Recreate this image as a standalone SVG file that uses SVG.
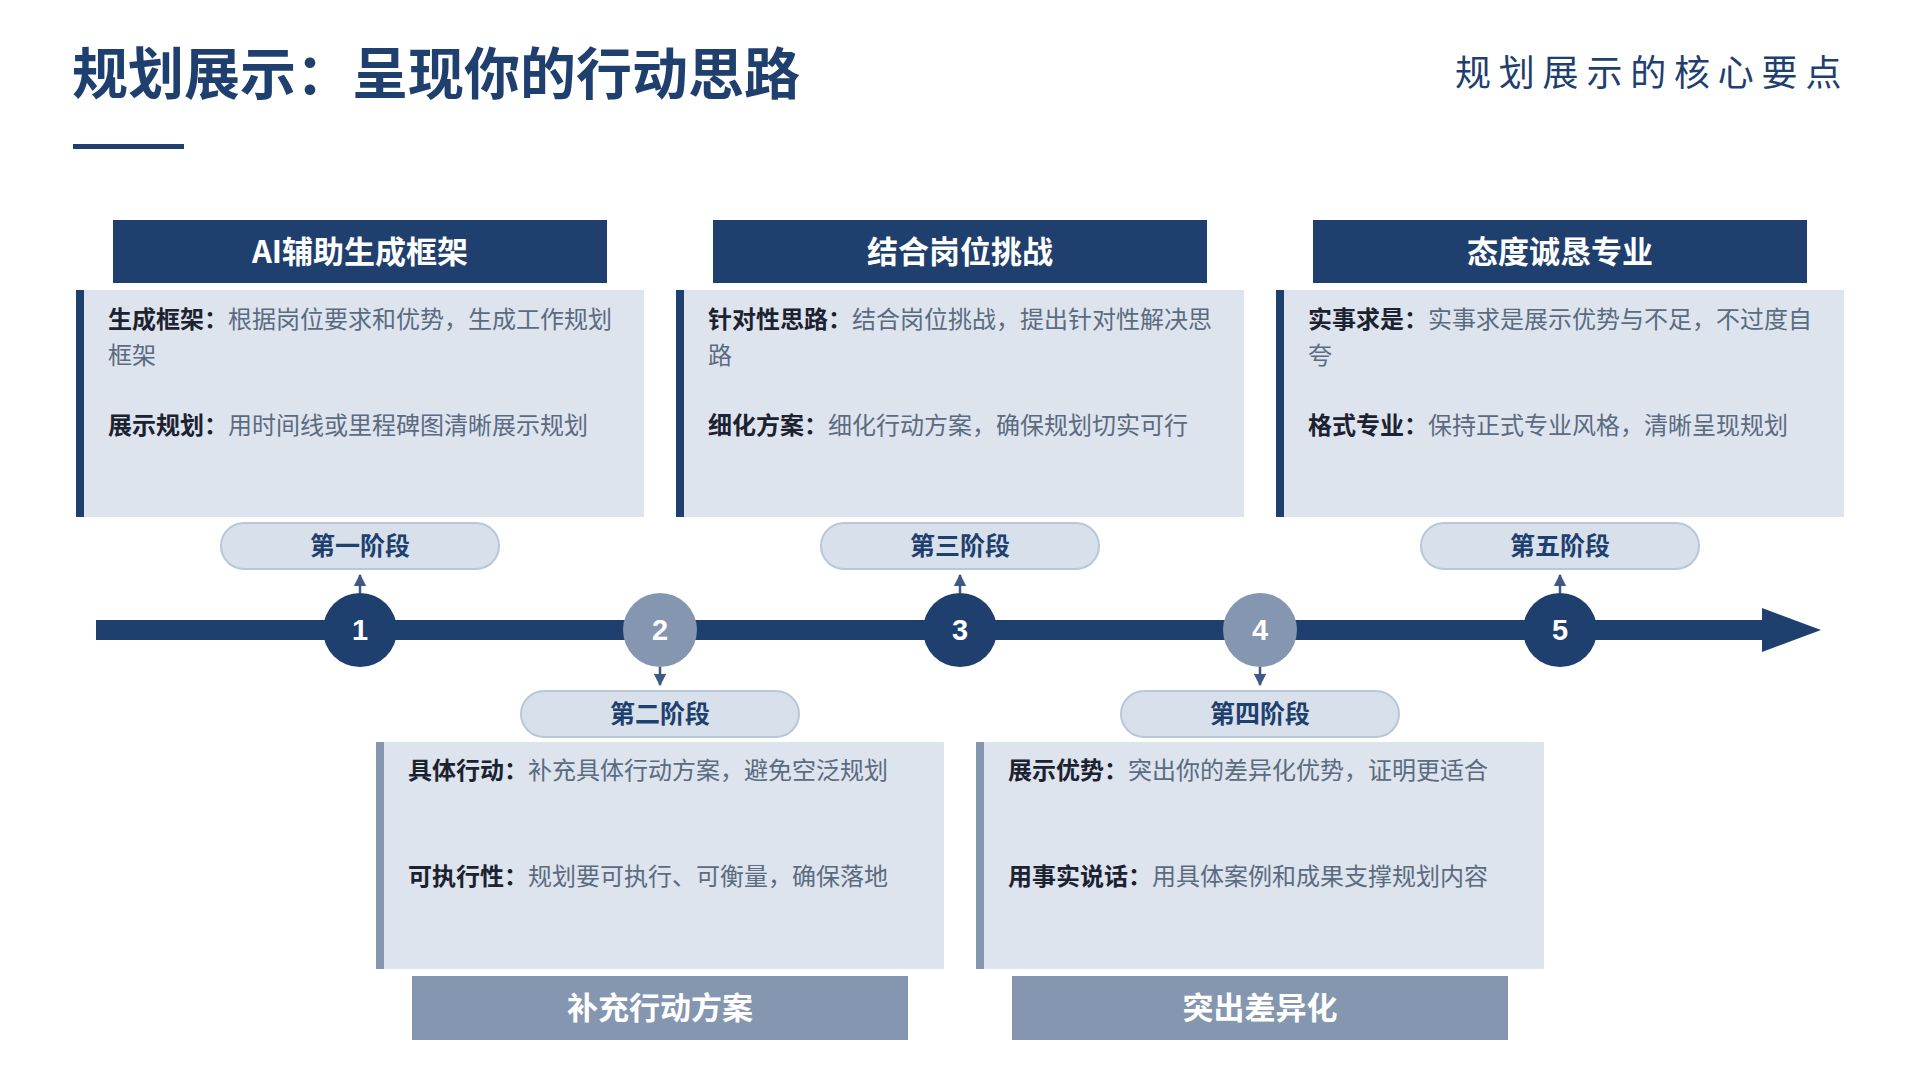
<svg xmlns="http://www.w3.org/2000/svg" width="1920" height="1080" viewBox="0 0 1920 1080">
<style>
text{font-family:"Noto Sans CJK SC","Liberation Sans",sans-serif}
.title{font-size:56px;font-weight:700;fill:#1f3f6e}
.sub{font-size:36px;font-weight:400;fill:#1f3f6e;letter-spacing:7.8px}
.card{fill:#dde4ee}
.hdr{fill:#1f3f6e}
.hdr2{fill:#8496b0}
.htxt{font-size:31px;font-weight:700;fill:#ffffff;text-anchor:middle}
.pill{fill:#d7e0eb;stroke:#b9c7da;stroke-width:2}
.ptxt{font-size:25px;font-weight:700;fill:#1f3f6e;text-anchor:middle}
.num{font-size:29px;font-weight:700;fill:#ffffff;text-anchor:middle;font-family:"Liberation Sans","Noto Sans",sans-serif}
.c1{fill:#1f3f6e}
.c2{fill:#8496b0}
.t{font-size:24px;fill:#5b6b80}
.b{font-weight:700;fill:#1c2230}
.conn{stroke:#3d5a87;stroke-width:2.5}
</style>
<defs>
<marker id="ah" viewBox="0 0 10 10" refX="9" refY="5" markerWidth="5" markerHeight="5" markerUnits="strokeWidth" orient="auto">
<path d="M0,0 L10,5 L0,10 z" fill="#3d5a87"/>
</marker>
</defs>
<rect width="1920" height="1080" fill="#ffffff"/>

<g id="title">
<text class="title" x="72" y="94">规划展示：呈现你的行动思路</text>
<rect x="73" y="144" width="111" height="5" fill="#1f3f6e"/>
<text class="sub" x="1455" y="86">规划展示的核心要点</text>
</g>

<g id="timeline">
<rect x="96" y="620" width="1670" height="20" fill="#1f3f6e"/>
<polygon points="1762,608 1821,630 1762,652" fill="#1f3f6e"/>
</g>

<g id="connectors">
<line class="conn" x1="360" y1="593" x2="360" y2="575" marker-end="url(#ah)"/>
<line class="conn" x1="660" y1="667" x2="660" y2="685" marker-end="url(#ah)"/>
<line class="conn" x1="960" y1="593" x2="960" y2="575" marker-end="url(#ah)"/>
<line class="conn" x1="1260" y1="667" x2="1260" y2="685" marker-end="url(#ah)"/>
<line class="conn" x1="1560" y1="593" x2="1560" y2="575" marker-end="url(#ah)"/>
</g>

<g id="node1">
<rect class="hdr" x="113" y="220" width="494" height="63"/>
<text class="htxt" x="360" y="263">AI辅助生成框架</text>
<rect class="card" x="76" y="290" width="568" height="227"/>
<rect class="c1" x="76" y="290" width="8" height="227"/>
<text class="t" x="108" y="328"><tspan class="b">生成框架：</tspan>根据岗位要求和优势，生成工作规划</text>
<text class="t" x="108" y="364">框架</text>
<text class="t" x="108" y="434"><tspan class="b">展示规划：</tspan>用时间线或里程碑图清晰展示规划</text>
<rect class="pill" x="221" y="523" width="278" height="46" rx="23"/>
<text class="ptxt" x="360" y="555">第一阶段</text>
<circle class="c1" cx="360" cy="630" r="37"/>
<text class="num" x="360" y="640">1</text>
</g>

<g id="node2">
<circle class="c2" cx="660" cy="630" r="37"/>
<text class="num" x="660" y="640">2</text>
<rect class="pill" x="521" y="691" width="278" height="46" rx="23"/>
<text class="ptxt" x="660" y="723">第二阶段</text>
<rect class="card" x="376" y="742" width="568" height="227"/>
<rect class="c2" x="376" y="742" width="8" height="227"/>
<text class="t" x="408" y="779"><tspan class="b">具体行动：</tspan>补充具体行动方案，避免空泛规划</text>
<text class="t" x="408" y="885"><tspan class="b">可执行性：</tspan>规划要可执行、可衡量，确保落地</text>
<rect class="hdr2" x="412" y="976" width="496" height="64"/>
<text class="htxt" x="660" y="1019">补充行动方案</text>
</g>

<g id="node3">
<rect class="hdr" x="713" y="220" width="494" height="63"/>
<text class="htxt" x="960" y="263">结合岗位挑战</text>
<rect class="card" x="676" y="290" width="568" height="227"/>
<rect class="c1" x="676" y="290" width="8" height="227"/>
<text class="t" x="708" y="328"><tspan class="b">针对性思路：</tspan>结合岗位挑战，提出针对性解决思</text>
<text class="t" x="708" y="364">路</text>
<text class="t" x="708" y="434"><tspan class="b">细化方案：</tspan>细化行动方案，确保规划切实可行</text>
<rect class="pill" x="821" y="523" width="278" height="46" rx="23"/>
<text class="ptxt" x="960" y="555">第三阶段</text>
<circle class="c1" cx="960" cy="630" r="37"/>
<text class="num" x="960" y="640">3</text>
</g>

<g id="node4">
<circle class="c2" cx="1260" cy="630" r="37"/>
<text class="num" x="1260" y="640">4</text>
<rect class="pill" x="1121" y="691" width="278" height="46" rx="23"/>
<text class="ptxt" x="1260" y="723">第四阶段</text>
<rect class="card" x="976" y="742" width="568" height="227"/>
<rect class="c2" x="976" y="742" width="8" height="227"/>
<text class="t" x="1008" y="779"><tspan class="b">展示优势：</tspan>突出你的差异化优势，证明更适合</text>
<text class="t" x="1008" y="885"><tspan class="b">用事实说话：</tspan>用具体案例和成果支撑规划内容</text>
<rect class="hdr2" x="1012" y="976" width="496" height="64"/>
<text class="htxt" x="1260" y="1019">突出差异化</text>
</g>

<g id="node5">
<rect class="hdr" x="1313" y="220" width="494" height="63"/>
<text class="htxt" x="1560" y="263">态度诚恳专业</text>
<rect class="card" x="1276" y="290" width="568" height="227"/>
<rect class="c1" x="1276" y="290" width="8" height="227"/>
<text class="t" x="1308" y="328"><tspan class="b">实事求是：</tspan>实事求是展示优势与不足，不过度自</text>
<text class="t" x="1308" y="364">夸</text>
<text class="t" x="1308" y="434"><tspan class="b">格式专业：</tspan>保持正式专业风格，清晰呈现规划</text>
<rect class="pill" x="1421" y="523" width="278" height="46" rx="23"/>
<text class="ptxt" x="1560" y="555">第五阶段</text>
<circle class="c1" cx="1560" cy="630" r="37"/>
<text class="num" x="1560" y="640">5</text>
</g>
</svg>
